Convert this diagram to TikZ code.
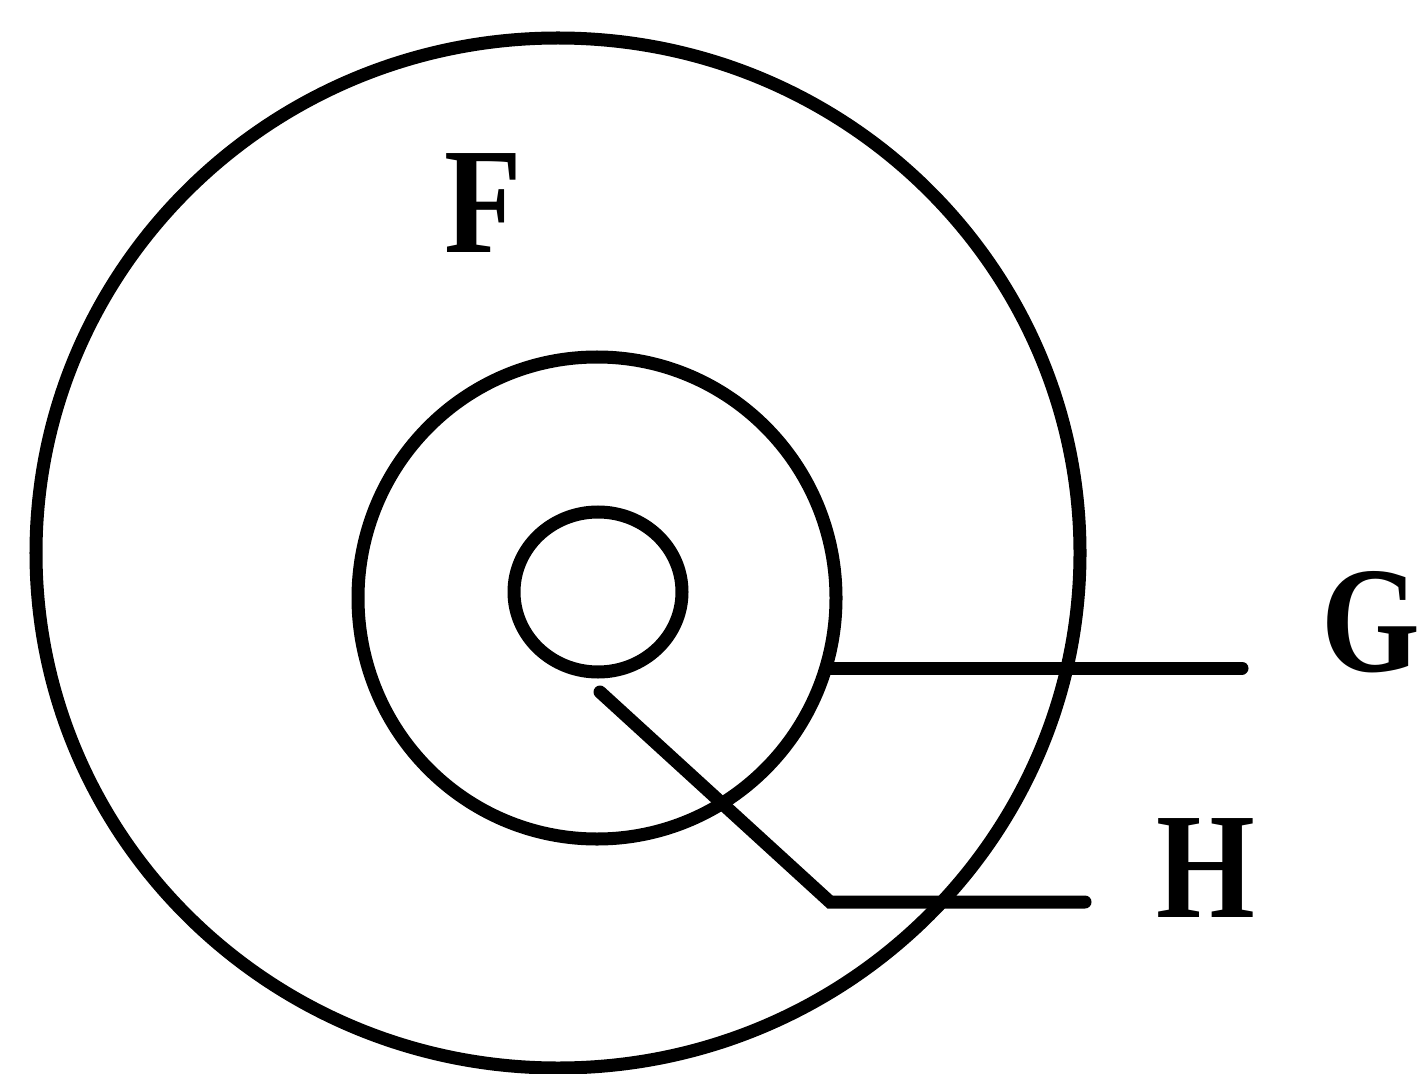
\documentclass[tikz,border=0pt]{standalone}
\usepackage{fontspec}
\newfontfamily\lblfont[FakeStretch=0.84]{Liberation Serif}
\usetikzlibrary{shapes.geometric}

\begin{document}
\begin{tikzpicture}[line width=3.7pt,line cap=round,
  ring/.style={draw,ellipse,inner sep=0pt,outer sep=0pt},
  lab/.style={font=\lblfont\fontsize{43}{48}\selectfont\bfseries,inner sep=0pt}]
\useasboundingbox (0,0) rectangle (14.23,10.73);

% ---------- the three rings ----------
\node[ring,minimum width=10.44cm,minimum height=10.30cm] (outer) at (5.58,5.20) {};
\node[ring,minimum width=4.78cm,minimum height=4.82cm] (mid) at (5.97,4.75) {};
\node[ring,minimum width=1.68cm,minimum height=1.60cm] (inner) at (5.98,4.81) {};

% ---------- labels ----------
\node[lab] (F) at (4.83,8.70) {F};
\node[lab] (G) at (13.71,4.51) {G};
\node[lab] (H) at (12.06,2.05) {H};

% ---------- leader lines ----------
\coordinate (gs) at (8.30,4.05);
\coordinate (ge) at (12.42,4.05);
\coordinate (hs) at (6.00,3.81);
\coordinate (hk) at (8.30,1.71);
\coordinate (he) at (10.85,1.71);
\draw (gs) -- (ge);
\draw (hs) -- (hk) -- (he);
\end{tikzpicture}
\end{document}
